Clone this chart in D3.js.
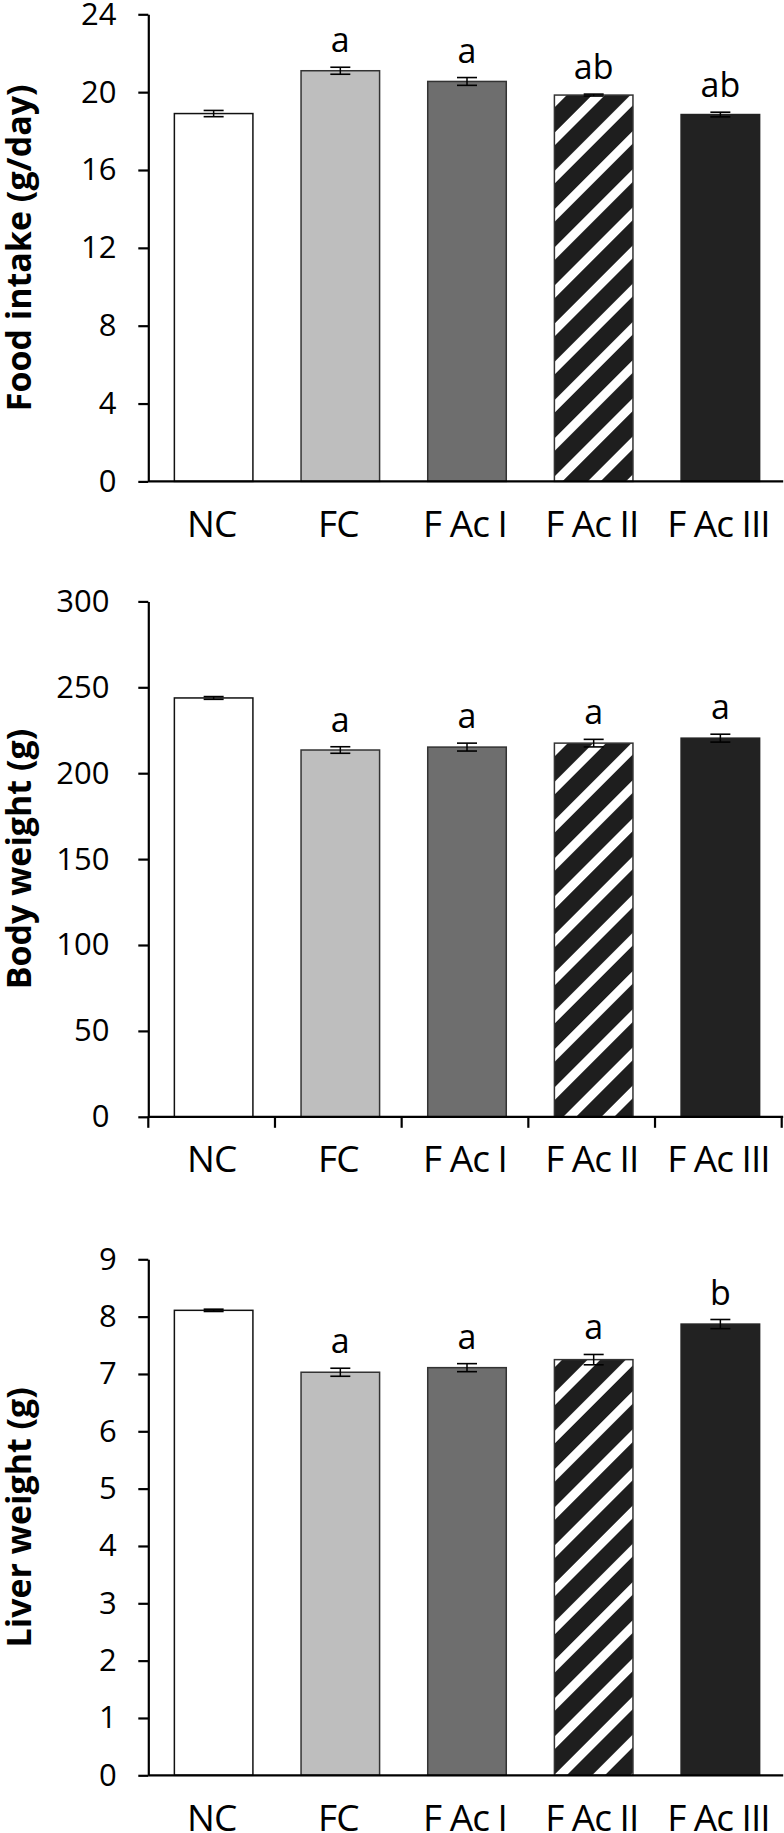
<!DOCTYPE html>
<html>
<head>
<meta charset="utf-8">
<script src="https://cdn.jsdelivr.net/npm/d3@7"></script>
<style>
  html, body { margin: 0; padding: 0; background: #fff; }
  svg { display: block; }
</style>
</head>
<body>
<svg id="chart" width="784" height="1833"></svg>
<script>
// ---------------- DATA ----------------
const categories = ["NC", "FC", "F Ac I", "F Ac II", "F Ac III"];

const foodIntake    = [18.9, 21.1, 20.55, 19.85, 18.85];
const foodIntakeErr = [0.16, 0.18, 0.2, 0.05, 0.12];
const foodLetters   = ["", "a", "a", "ab", "ab"];
const foodTicks     = [0, 4, 8, 12, 16, 20, 24];

const bodyWeight    = [243.8, 213.5, 215.2, 217.5, 220.4];
const bodyWeightErr = [0.8, 1.9, 2.3, 2.2, 2.3];
const bodyLetters   = ["", "a", "a", "a", "a"];
const bodyTicks     = [0, 50, 100, 150, 200, 250, 300];

const liverWeight    = [8.11, 7.03, 7.11, 7.25, 7.87];
const liverWeightErr = [0.02, 0.07, 0.07, 0.09, 0.08];
const liverLetters   = ["", "a", "a", "a", "b"];
const liverTicks     = [0, 1, 2, 3, 4, 5, 6, 7, 8, 9];

const yLabels = ["Food intake (g/day)", "Body weight (g)", "Liver weight (g)"];

// ---------------- STYLE / LAYOUT ----------------
const fills = ["#ffffff", "#bebebe", "#6e6e6e", "url(#stripes)", "#222222"];
const strokes = ["#111", "#333", "#333", "#333", "#222"];
const FONT = "'Open Sans', 'Noto Sans', sans-serif";

const panels = [
  { values: foodIntake, errors: foodIntakeErr, letters: foodLetters, ticks: foodTicks,
    label: yLabels[0], top: 14.3, bottom: 481.4, tickPad: 21.8, catTicks: false },
  { values: bodyWeight, errors: bodyWeightErr, letters: bodyLetters, ticks: bodyTicks,
    label: yLabels[1], top: 601.4, bottom: 1116.8, tickPad: 28.8, catTicks: true },
  { values: liverWeight, errors: liverWeightErr, letters: liverLetters, ticks: liverTicks,
    label: yLabels[2], top: 1259.3, bottom: 1775.3, tickPad: 21.5, catTicks: false }
];

const axisX = 148.3, rightX = 781.7;
const barShift = 2;
const letterGap = 15;
const capHalf = 10;

const svg = d3.select("#chart");

// stripe pattern
const defs = svg.append("defs");
const pat = defs.append("pattern")
  .attr("id", "stripes")
  .attr("patternUnits", "userSpaceOnUse")
  .attr("width", 27).attr("height", 27)
  .attr("patternTransform", "rotate(45)");
pat.append("rect").attr("width", 27).attr("height", 27).attr("fill", "#1e1e1e");
pat.append("rect").attr("width", 9).attr("height", 27).attr("fill", "#ffffff");

const x = d3.scaleBand()
  .domain(categories)
  .range([axisX, rightX])
  .paddingInner(0.38)
  .paddingOuter(0.19);

panels.forEach(p => {
  const y = d3.scaleLinear()
    .domain([0, d3.max(p.ticks)])
    .range([p.bottom, p.top]);

  const g = svg.append("g");

  // bars
  g.selectAll("rect.bar")
    .data(p.values)
    .join("rect")
    .attr("class", "bar")
    .attr("x", (d, i) => x(categories[i]) + barShift)
    .attr("y", d => y(d))
    .attr("width", x.bandwidth())
    .attr("height", d => y(0) - y(d))
    .attr("fill", (d, i) => fills[i])
    .attr("stroke", (d, i) => strokes[i])
    .attr("stroke-width", 1.5);

  // error bars
  const eg = g.selectAll("g.err")
    .data(p.values)
    .join("g")
    .attr("class", "err")
    .attr("transform", (d, i) =>
      `translate(${x(categories[i]) + x.bandwidth() / 2 + barShift},0)`);
  eg.append("line")
    .attr("x1", 0).attr("x2", 0)
    .attr("y1", (d, i) => y(d + p.errors[i]))
    .attr("y2", (d, i) => y(d - p.errors[i]))
    .attr("stroke", "#000").attr("stroke-width", 1.5);
  eg.append("line")
    .attr("x1", -capHalf).attr("x2", capHalf)
    .attr("y1", (d, i) => y(d + p.errors[i]))
    .attr("y2", (d, i) => y(d + p.errors[i]))
    .attr("stroke", "#000").attr("stroke-width", 1.6);
  eg.append("line")
    .attr("x1", -capHalf).attr("x2", capHalf)
    .attr("y1", (d, i) => y(d - p.errors[i]))
    .attr("y2", (d, i) => y(d - p.errors[i]))
    .attr("stroke", "#000").attr("stroke-width", 1.6);

  // significance letters
  g.selectAll("text.letter")
    .data(p.values)
    .join("text")
    .attr("class", "letter")
    .attr("x", (d, i) => x(categories[i]) + x.bandwidth() / 2 + barShift)
    .attr("y", (d, i) => y(d + p.errors[i]) - letterGap)
    .attr("text-anchor", "middle")
    .attr("font-family", FONT)
    .attr("font-size", 34)
    .attr("fill", "#000")
    .text((d, i) => p.letters[i]);

  // y axis
  const ya = g.append("g")
    .attr("transform", `translate(${axisX},0)`)
    .call(d3.axisLeft(y).tickValues(p.ticks).tickSize(10).tickSizeOuter(0)
      .tickPadding(p.tickPad).tickFormat(d3.format("d")));
  ya.select(".domain").attr("stroke", "#000").attr("stroke-width", 2.2);
  ya.selectAll(".tick line").attr("stroke", "#000").attr("stroke-width", 2.2);
  ya.selectAll(".tick text")
    .attr("font-family", FONT).attr("font-size", 31).attr("fill", "#000");

  // x axis (labels at band centres)
  const xa = g.append("g")
    .attr("transform", `translate(0,${y(0)})`)
    .call(d3.axisBottom(x).tickSize(0).tickPadding(29));
  xa.select(".domain").remove();
  xa.selectAll(".tick text")
    .attr("font-family", FONT).attr("font-size", 37)
    .attr("letter-spacing", "-1px").attr("fill", "#000");

  // x axis line
  g.append("line")
    .attr("x1", axisX).attr("x2", rightX + 1.5)
    .attr("y1", y(0)).attr("y2", y(0))
    .attr("stroke", "#000").attr("stroke-width", 2.2);

  // category boundary ticks (body weight panel only)
  if (p.catTicks) {
    const bounds = categories.map(c => x(c) - (x.step() - x.bandwidth()) / 2)
      .concat([x(categories[categories.length - 1]) + x.bandwidth() + (x.step() - x.bandwidth()) / 2]);
    g.selectAll("line.ctick")
      .data(bounds)
      .join("line")
      .attr("class", "ctick")
      .attr("x1", d => d).attr("x2", d => d)
      .attr("y1", y(0)).attr("y2", y(0) + 11)
      .attr("stroke", "#000").attr("stroke-width", 2.2);
  }

  // y axis title
  g.append("text")
    .attr("transform", `translate(31,${(p.top + p.bottom) / 2}) rotate(-90)`)
    .attr("text-anchor", "middle")
    .attr("font-family", FONT)
    .attr("font-weight", "bold")
    .attr("font-size", 34)
    .attr("fill", "#000")
    .text(p.label);
});
</script>
</body>
</html>
